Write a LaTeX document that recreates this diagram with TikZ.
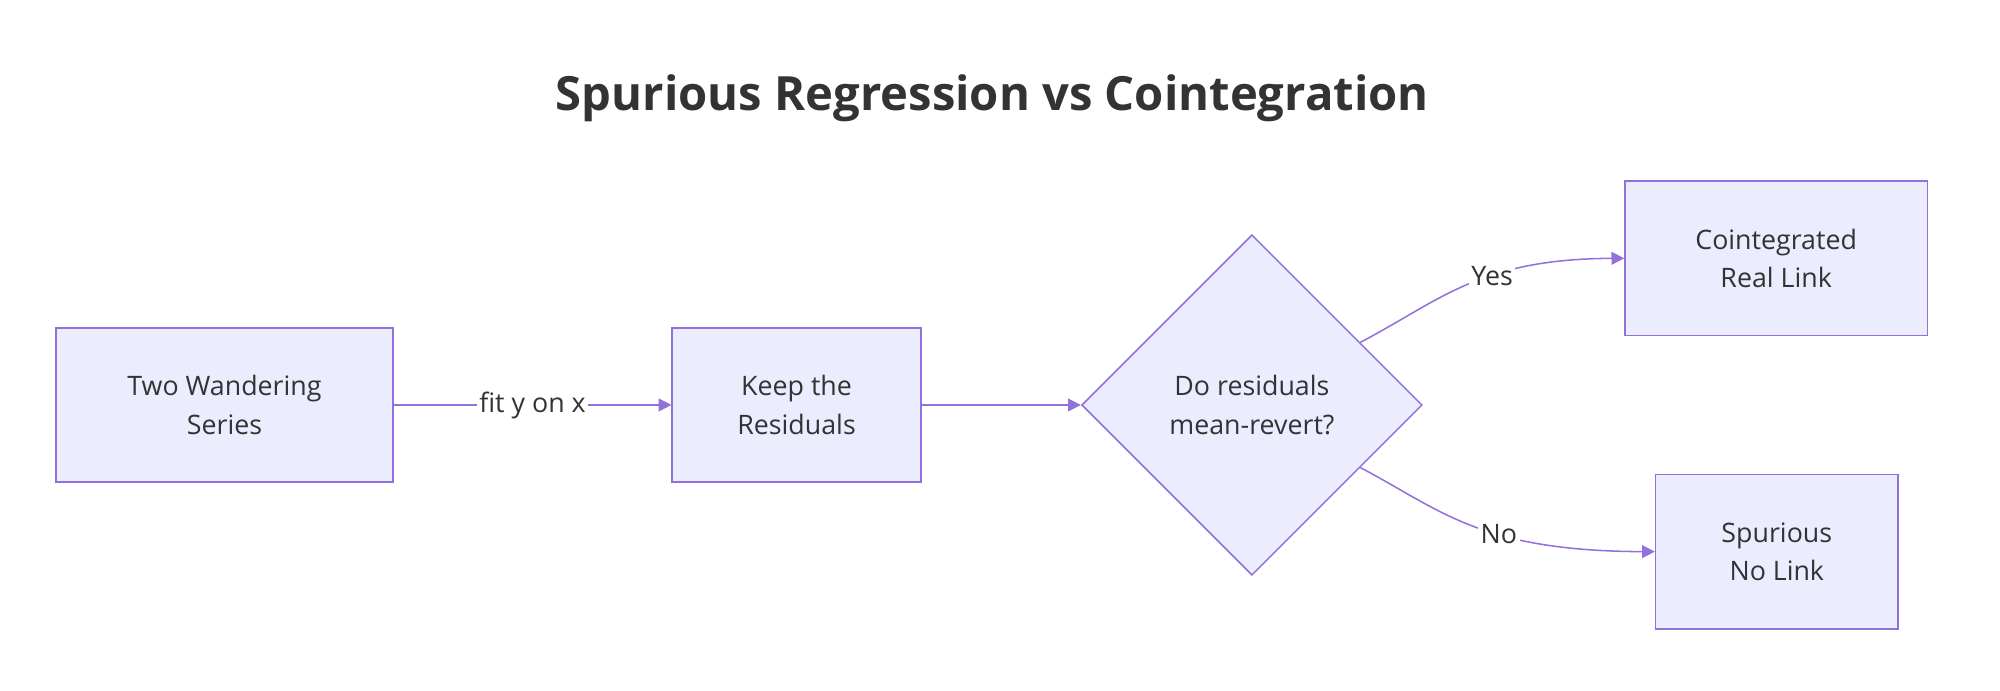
\documentclass[tikz,border=0pt]{standalone}
\usepackage{fontspec}
\setmainfont{Open Sans}
\usetikzlibrary{positioning, shapes.geometric, arrows.meta}
\definecolor{boxfill}{HTML}{ECECFF}
\definecolor{boxline}{HTML}{9370DB}
\definecolor{txt}{HTML}{333333}
\tikzset{
  stage/.style={draw=boxline, fill=boxfill, text=txt, line width=0.6pt, align=center,
    minimum height=60.5pt, inner sep=0pt, font=\fontsize{10.5}{15}\selectfont},
  check/.style={stage, diamond, minimum width=133.5pt, minimum height=133.5pt, aspect=1},
  link/.style={draw=boxline, line width=0.6pt, -{Triangle[length=5pt, width=5pt]}},
  tag/.style={fill=white, text=txt, inner sep=1pt, font=\fontsize{10.5}{12}\selectfont}
}
\begin{document}
\begin{tikzpicture}[x=0.5pt, y=-0.5pt]
    \useasboundingbox (0,0) rectangle (1568,541);
    \node[text=txt, font=\fontsize{18.5}{22}\selectfont\bfseries] (title) at (778,77) {Spurious Regression vs Cointegration};

    \node[stage, minimum width=132pt] at (176,317.5) (two) {Two Wandering\\Series};
    \node[stage, minimum width=97.5pt] at (624.5,317.5) (keep) {Keep the\\Residuals};
    \node[check] at (981.5,317.5) (dia) {Do residuals\\mean-revert?};
    \node[stage, minimum width=118.5pt] at (1392.5,202.5) (coint) {Cointegrated\\Real Link};
    \node[stage, minimum width=95pt] at (1393,432.5) (spur) {Spurious\\No Link};

    \draw[link] (two) -- node[tag] {fit y on x} (keep);
    \draw[link] (keep) -- (dia);
    \draw[link] (dia.30) .. controls (1130,235) and (1160,203) .. node[tag, pos=0.6] {Yes} (coint.west);
    \draw[link] (dia.-30) .. controls (1130,400) and (1160,432) .. node[tag, pos=0.6] {No} (spur.west);
\end{tikzpicture}
\end{document}
